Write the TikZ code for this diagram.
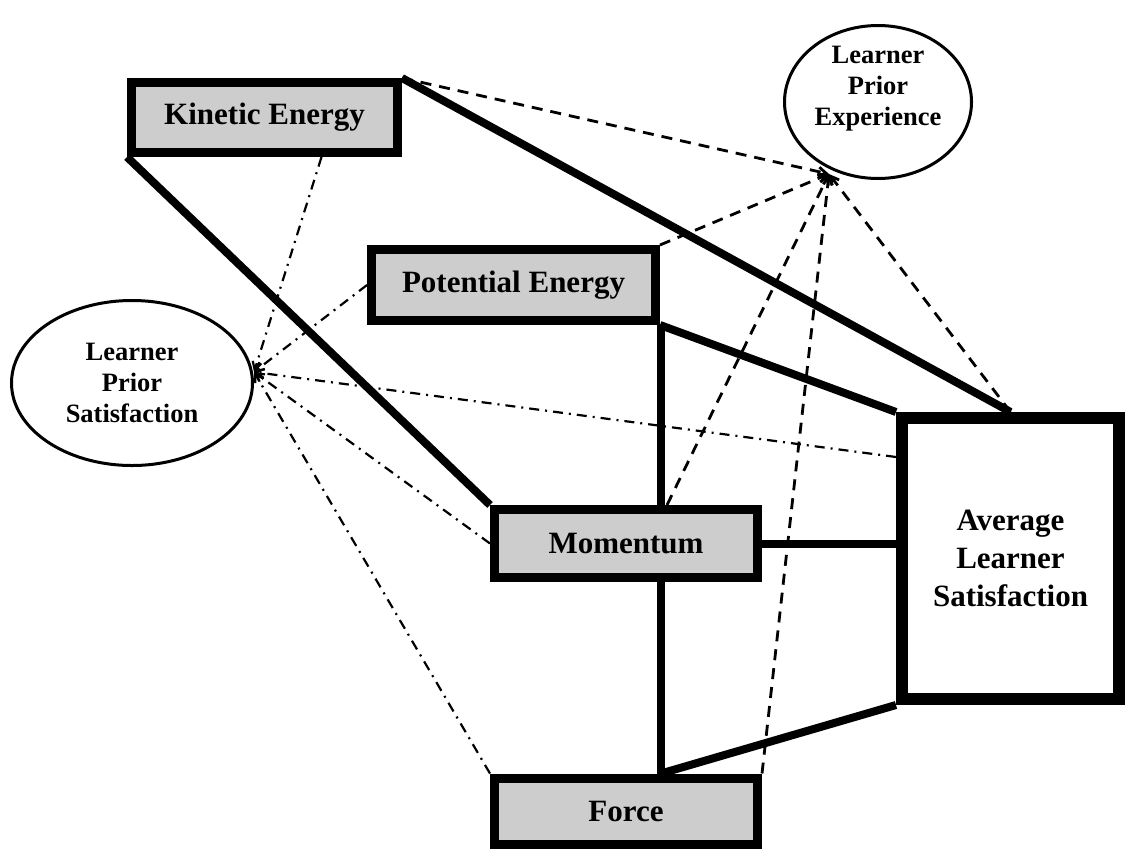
\documentclass[tikz,border=0pt]{standalone}
\usepackage{fontspec}
\setmainfont{Liberation Serif}
\usetikzlibrary{shapes.geometric,arrows.meta,calc}
\definecolor{boxgray}{RGB}{205,205,205}
\tikzset{
 topic/.style={draw, line width=9pt, fill=boxgray, inner sep=0pt, font=\bfseries\fontsize{31}{37}\selectfont},
 outcome/.style={draw, line width=12pt, fill=white, inner sep=0pt, align=center, font=\bfseries\fontsize{31}{38}\selectfont},
 prior/.style={draw, ellipse, line width=3pt, inner sep=0pt, align=center, font=\bfseries\fontsize{26.5}{31}\selectfont},
 strong/.style={line width=8pt},
 expline/.style={line width=2.8pt, dash pattern=on 11pt off 8pt, -{Straight Barb[length=8pt,width=9pt]}},
 satline/.style={line width=2.2pt, dash pattern=on 10pt off 6pt on 2pt off 6pt, -{Straight Barb[length=8pt,width=9pt]}},
}
\begin{document}
\begin{tikzpicture}[x=1pt,y=-1pt]
\useasboundingbox[fill=white] (0,0) rectangle (1126,849);
% nodes
\node[topic, minimum width=266pt, minimum height=70pt] (KE) at (264.5,117.5) {Kinetic Energy};
\node[topic, minimum width=284pt, minimum height=71pt] (PE) at (513.5,285) {Potential Energy};
\node[topic, minimum width=263pt, minimum height=68pt] (MO) at (626,543.5) {Momentum};
\node[topic, minimum width=263pt, minimum height=66pt] (FO) at (626,811) {Force};
\node[outcome, minimum width=217pt, minimum height=281pt] (AV) at (1010.5,558.5) {Average\\Learner\\Satisfaction};
\node[prior, minimum width=187pt, minimum height=153pt] (LPE) at (878,102)
  {\raisebox{7pt}[0pt][0pt]{\begin{tabular}{@{}c@{}}Learner\\Prior\\Experience\end{tabular}}};
\node[prior, minimum width=241pt, minimum height=165pt] (LPS) at (132,383) {Learner\\Prior\\Satisfaction};
\coordinate (lpe) at (829,174);
\coordinate (lps) at (254,372);
\coordinate (vx) at (661,0);
% strong links
\draw[strong] (KE.south west) -- (MO.north west);
\draw[strong] (KE.north east) -- (AV.north);
\draw[strong] (PE.south east) -- (AV.north west);
\draw[strong] (PE.south east -| vx) -- (MO.north -| vx);
\draw[strong] (MO.east) -- (MO.east -| AV.west);
\draw[strong] (MO.south -| vx) -- (FO.north -| vx);
\draw[strong] (FO.north -| vx) -- (AV.south west);
% prior experience links
\draw[expline] (KE.north east) -- (lpe);
\draw[expline] (PE.north east) -- (lpe);
\draw[expline] ([xshift=6pt]MO.north -| vx) -- (lpe);
\draw[expline] (FO.north east) -- (lpe);
\draw[expline] (AV.north) -- (lpe);
% prior satisfaction links
\draw[satline] ([xshift=57pt]KE.south) -- (lps);
\draw[satline] (PE.west) -- (lps);
\draw[satline] (MO.west) -- (lps);
\draw[satline] ([yshift=-45pt]AV.north west) -- (lps);
\draw[satline] (FO.north west) -- (lps);
\end{tikzpicture}
\end{document}
